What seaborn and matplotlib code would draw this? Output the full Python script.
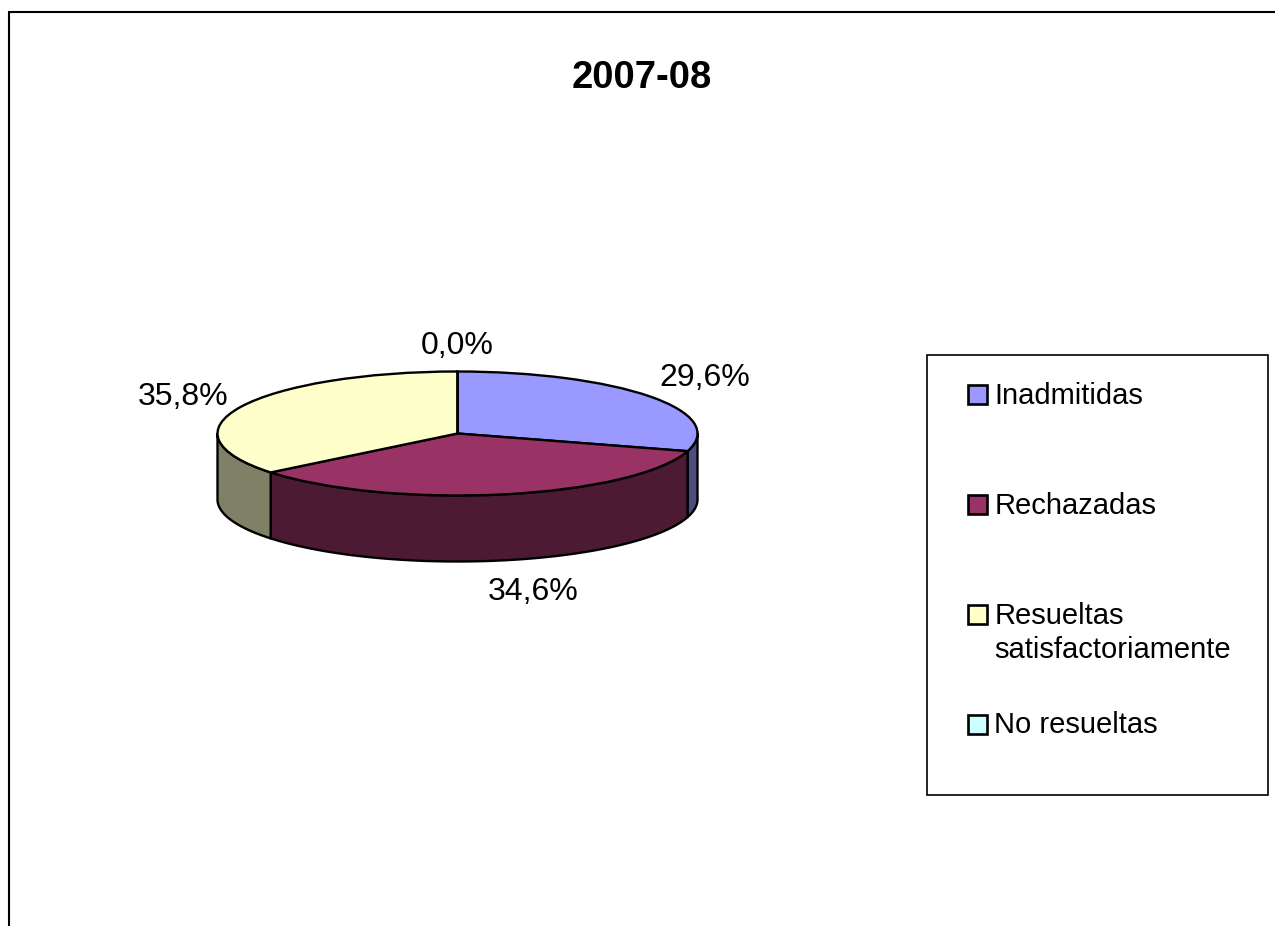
import numpy as np
import matplotlib
matplotlib.use("Agg")
import matplotlib.pyplot as plt
from matplotlib.patches import Rectangle
import seaborn as sns

# Data
title = "2007-08"
categories = ["Inadmitidas", "Rechazadas", "Resueltas\nsatisfactoriamente", "No resueltas"]
values = [29.6, 34.6, 35.8, 0.0]
colors = ["#9999FF", "#993366", "#FFFFCC", "#CCFFFF"]

sns.set_theme(style="white")
plt.rcParams["font.family"] = ["Liberation Sans", "DejaVu Sans"]
palette = sns.color_palette(colors)

W, H = 1275, 926
fig = plt.figure(figsize=(W / 100, H / 100), dpi=100, facecolor="white")

# overlay in pixel coordinates for the frame, title, labels and legend
ax = fig.add_axes([0, 0, 1, 1])
ax.set_xlim(0, W)
ax.set_ylim(H, 0)
ax.axis("off")
ax.patch.set_alpha(0)

# only the top and left of the chart border are inside the picture
ax.plot([8.5, 8.5, W], [H, 12, 12], color="black", lw=1.5, solid_joinstyle="miter")
ax.text(641.5, 88, title, fontsize=27.5, fontweight="bold", ha="center", va="baseline", color="black")

# Pie: ellipse in pixels
cx, cy, rx, ry, depth = 457.5, 433.5, 240, 62, 66
pie_ax = fig.add_axes([(cx - rx) / W, 1 - (cy + ry) / H, 2 * rx / W, 2 * ry / H])
pie_ax.pie(values, colors=palette, startangle=90, counterclock=False, radius=1,
           wedgeprops={"edgecolor": "black", "linewidth": 1.7})
pie_ax.set_aspect("auto")
pie_ax.set_xlim(-1, 1)
pie_ax.set_ylim(-1, 1)
pie_ax.patch.set_alpha(0)

# side wall of the disc, only the part of each slice facing the viewer
edges = 90 - 3.6 * np.cumsum([0] + values)
d = depth / ry
for i, c in enumerate(palette):
    hi = min(edges[i], 0)
    lo = max(edges[i + 1], -180)
    if hi <= lo:
        continue
    t = np.radians(np.linspace(lo, hi, 80))
    xs = np.cos(t)
    ys = np.sin(t)
    px = np.concatenate([xs, xs[::-1]])
    py = np.concatenate([ys, ys[::-1] - d])
    pie_ax.fill(px, py, facecolor=np.array(c) * 0.5, edgecolor="black", lw=1.7,
                zorder=0.5, clip_on=False, joinstyle="round")

# Percentage labels, comma decimals as in the original
label_pos = [(704.5, 386), (533.5, 600), (183.5, 405), (457.5, 354)]
for v, (x, y) in zip(values, label_pos):
    ax.text(x, y, f"{v:.1f}%".replace(".", ","), fontsize=23, ha="center", va="baseline", color="black")

# Legend box
ax.add_patch(Rectangle((927, 355), 341, 440, facecolor="white", edgecolor="black", lw=1.2, zorder=1))
square_tops = [385, 495, 605, 715]
text_base = [404, 514, 624, 733]
for name, c, top, base in zip(categories, palette, square_tops, text_base):
    ax.add_patch(Rectangle((968, top), 18.5, 18.5, facecolor=c, edgecolor="black", lw=1.9, zorder=2))
    lines = name.split("\n")
    for j, line in enumerate(lines):
        ax.text(994.5, base + j * 34, line, fontsize=21, ha="left", va="baseline", color="black", zorder=3)

fig.savefig("out.png", dpi=100)
